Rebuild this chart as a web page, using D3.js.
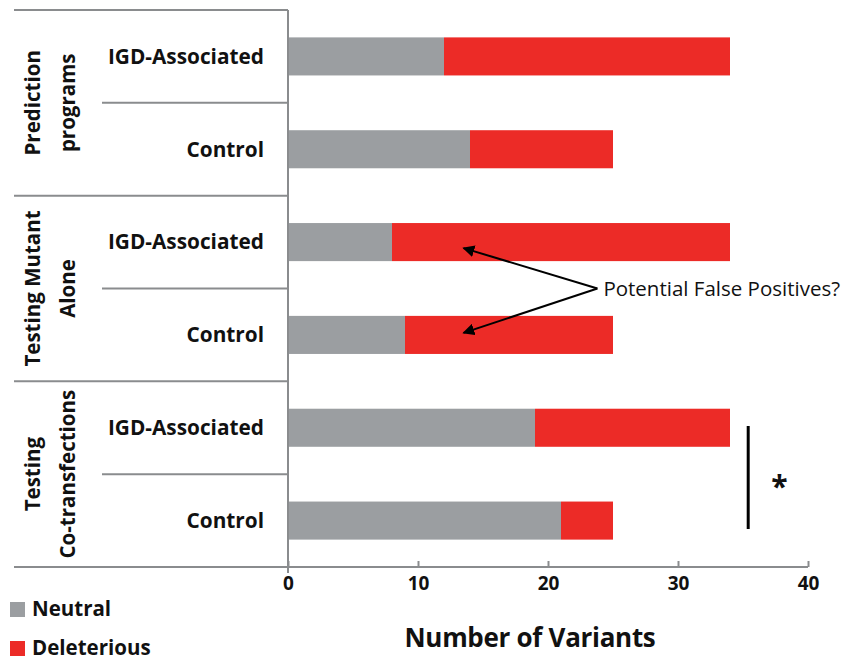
<!DOCTYPE html>
<html><head><meta charset="utf-8">
<script src="https://cdn.jsdelivr.net/npm/d3@7"></script>
<style>body{margin:0;background:#fff}svg{display:block}text{font-family:"Open Sans",Lato,sans-serif}</style>
</head><body><div id="chart"></div>
<script>
const groups = ["Prediction|programs", "Testing Mutant|Alone", "Testing|Co-transfections"];
const rows = ["IGD-Associated", "Control", "IGD-Associated", "Control", "IGD-Associated", "Control"];
const neutral = [12, 14, 8, 9, 19, 21];
const deleterious = [22, 11, 26, 16, 15, 4];
const xTicks = [0, 10, 20, 30, 40];
const seriesNames = ["Neutral", "Deleterious"];
const colors = ["#9b9ea1", "#ec2b27"];

const W = 843, H = 661;
const svg = d3.select("#chart").append("svg").attr("width", W).attr("height", H);
const x = d3.scaleLinear().domain([0, 40]).range([288, 808]);
const y = d3.scaleBand().domain(d3.range(rows.length)).range([10, 567]).paddingInner(0.59).paddingOuter(0.295);
const step = y.step();
const axisCol = "#8a8c8e";
const ink = "#111";

// stacked bars
const data = rows.map((r, i) => ({i, n: neutral[i], d: deleterious[i]}));
const stack = d3.stack().keys(["n", "d"])(data);
svg.selectAll("g.s").data(stack).join("g").attr("fill", (s, k) => colors[k])
  .selectAll("rect").data(s => s).join("rect")
  .attr("x", d => x(d[0])).attr("width", d => x(d[1]) - x(d[0]))
  .attr("y", d => y(d.data.i)).attr("height", y.bandwidth());

// x axis
const xa = svg.append("g").attr("transform", "translate(0,567)")
  .call(d3.axisBottom(x).tickValues(xTicks).tickSize(-6).tickPadding(17));
xa.select(".domain").attr("stroke", axisCol).attr("stroke-width", 2).attr("d", "M288,0H808");
xa.selectAll(".tick line").attr("stroke", axisCol).attr("stroke-width", 2);
xa.selectAll(".tick text").attr("font-size", 19).attr("font-weight", "bold").attr("fill", ink).attr("dy", "0.3em");

// y axis line
svg.append("line").attr("x1", 288).attr("x2", 288).attr("y1", 10).attr("y2", 573).attr("stroke", axisCol).attr("stroke-width", 2);
const top0 = 10;
[0, 2, 4, 6].forEach(k => {
  const yy = top0 + k * step;
  svg.append("line").attr("x1", 14).attr("x2", 288).attr("y1", yy).attr("y2", yy).attr("stroke", axisCol).attr("stroke-width", 2);
});
[1, 3, 5].forEach(k => {
  const yy = top0 + k * step;
  svg.append("line").attr("x1", 102).attr("x2", 288).attr("y1", yy).attr("y2", yy).attr("stroke", axisCol).attr("stroke-width", 2);
});

// row labels
svg.selectAll("text.row").data(rows).join("text").attr("class", "row")
  .attr("x", 264).attr("y", (d, i) => y(i) + y.bandwidth() / 2).attr("dy", "0.35em")
  .attr("text-anchor", "end").attr("font-size", 20.8).attr("font-weight", "bold").attr("fill", ink)
  .text(d => d);

// group labels
groups.forEach((g, k) => {
  const cy = top0 + (2 * k + 1) * step;
  const lines = g.split("|");
  lines.forEach((l, j) => {
    svg.append("text").attr("transform", `translate(${33 + j * 35},${cy}) rotate(-90)`)
      .attr("text-anchor", "middle").attr("dy", "0.35em").attr("font-size", 20.5).attr("font-weight", "bold")
      .attr("fill", ink).text(l);
  });
});

// annotation
const defs = svg.append("defs");
defs.append("marker").attr("id", "ah").attr("viewBox", "0 0 10 10").attr("refX", 9).attr("refY", 5)
  .attr("markerWidth", 6).attr("markerHeight", 6).attr("orient", "auto")
  .append("path").attr("d", "M0,0L10,5L0,10z").attr("fill", "#000");
const ax0 = x(23.8), ay0 = y(2) + y.bandwidth() / 2 + step / 2;
[[x(13.5), y(2) + y.bandwidth() / 2 + 6], [x(13.5), y(3) + y.bandwidth() / 2 - 2]].forEach(p => {
  svg.append("line").attr("x1", ax0).attr("y1", ay0).attr("x2", p[0]).attr("y2", p[1])
    .attr("stroke", "#000").attr("stroke-width", 2).attr("marker-end", "url(#ah)");
});
svg.append("text").attr("x", ax0 + 6).attr("y", ay0).attr("dy", "0.35em").attr("font-size", 20.5)
  .attr("fill", ink).text("Potential False Positives?");

// significance
svg.append("line").attr("x1", x(35.4)).attr("x2", x(35.4)).attr("y1", 426).attr("y2", 529)
  .attr("stroke", "#000").attr("stroke-width", 3);
svg.append("text").attr("x", x(37.8)).attr("y", top0 + 5 * step).attr("dy", "0.75em").attr("text-anchor", "middle")
  .attr("font-size", 30).attr("font-weight", "bold").attr("fill", ink).text("*");

// axis title
svg.append("text").attr("x", 530).attr("y", 638).attr("dy", "0.35em").attr("text-anchor", "middle")
  .attr("font-size", 26).attr("font-weight", "bold").attr("fill", ink).attr("letter-spacing", "-0.3px").text("Number of Variants");

// legend
seriesNames.forEach((s, k) => {
  const ly = 609 + k * 39;
  svg.append("rect").attr("x", 10).attr("y", ly - 7).attr("width", 15).attr("height", 15).attr("fill", colors[k]);
  svg.append("text").attr("x", 32).attr("y", ly).attr("dy", "0.35em").attr("font-size", 20.5).attr("font-weight", "bold")
    .attr("fill", ink).text(s);
});
</script></body></html>
